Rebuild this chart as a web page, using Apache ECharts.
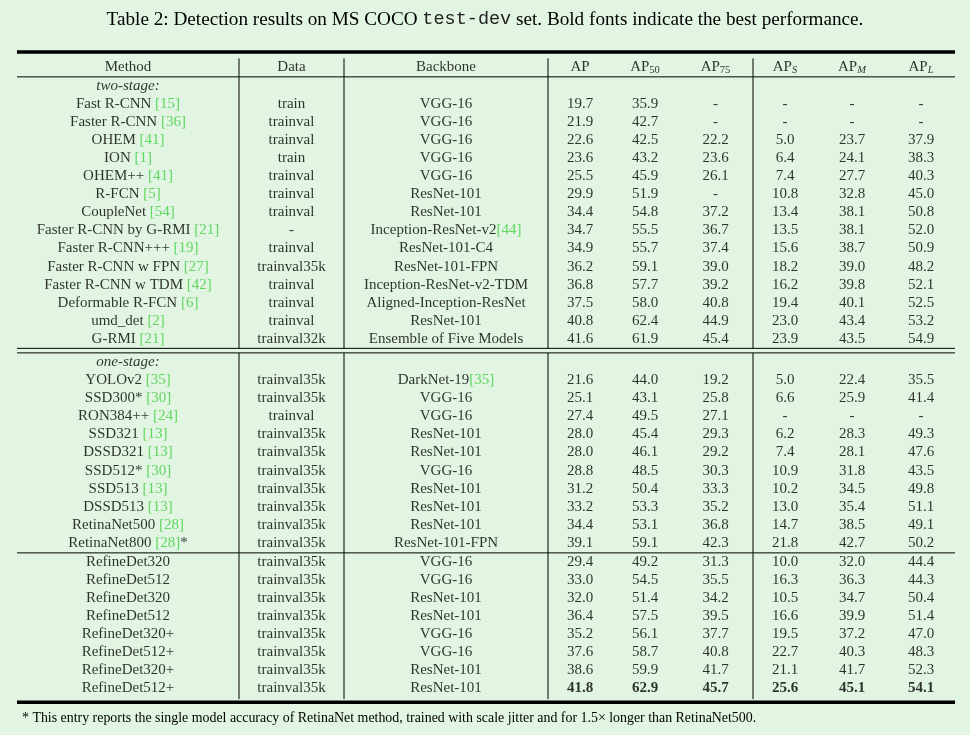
<!DOCTYPE html>
<html>
<head>
<meta charset="utf-8">
<script src="https://cdn.jsdelivr.net/npm/echarts@6/dist/echarts.min.js"></script>
<style>
  html, body { margin: 0; padding: 0; background: #E2F5E3; }
  #main { width: 970px; height: 735px; }
</style>
</head>
<body>
<div id="main"></div>
<script>
// table content
const headers = ['Method', 'Data', 'Backbone', 'AP', 'AP{sub|50}', 'AP{sub|75}', 'AP{isub|S}', 'AP{isub|M}', 'AP{isub|L}']
const sectionLabels = ['two-stage:', 'one-stage:', null]
const sectionSizes = [14, 10, 8]

const methods = [
    'Fast R-CNN [15]', 'Faster R-CNN [36]', 'OHEM [41]', 'ION [1]', 'OHEM++ [41]', 'R-FCN [5]',
    'CoupleNet [54]', 'Faster R-CNN by G-RMI [21]', 'Faster R-CNN+++ [19]', 'Faster R-CNN w FPN [27]',
    'Faster R-CNN w TDM [42]', 'Deformable R-FCN [6]', 'umd_det [2]', 'G-RMI [21]',
    'YOLOv2 [35]', 'SSD300* [30]', 'RON384++ [24]', 'SSD321 [13]', 'DSSD321 [13]', 'SSD512* [30]',
    'SSD513 [13]', 'DSSD513 [13]', 'RetinaNet500 [28]', 'RetinaNet800 [28]*',
    'RefineDet320', 'RefineDet512', 'RefineDet320', 'RefineDet512',
    'RefineDet320+', 'RefineDet512+', 'RefineDet320+', 'RefineDet512+'
]
const dataUsed = [
    'train', 'trainval', 'trainval', 'train', 'trainval', 'trainval', 'trainval', '-', 'trainval',
    'trainval35k', 'trainval', 'trainval', 'trainval', 'trainval32k',
    'trainval35k', 'trainval35k', 'trainval', 'trainval35k', 'trainval35k', 'trainval35k',
    'trainval35k', 'trainval35k', 'trainval35k', 'trainval35k',
    'trainval35k', 'trainval35k', 'trainval35k', 'trainval35k',
    'trainval35k', 'trainval35k', 'trainval35k', 'trainval35k'
]
const backbones = [
    'VGG-16', 'VGG-16', 'VGG-16', 'VGG-16', 'VGG-16', 'ResNet-101', 'ResNet-101',
    'Inception-ResNet-v2[44]', 'ResNet-101-C4', 'ResNet-101-FPN', 'Inception-ResNet-v2-TDM',
    'Aligned-Inception-ResNet', 'ResNet-101', 'Ensemble of Five Models',
    'DarkNet-19[35]', 'VGG-16', 'VGG-16', 'ResNet-101', 'ResNet-101', 'VGG-16',
    'ResNet-101', 'ResNet-101', 'ResNet-101', 'ResNet-101-FPN',
    'VGG-16', 'VGG-16', 'ResNet-101', 'ResNet-101', 'VGG-16', 'VGG-16', 'ResNet-101', 'ResNet-101'
]
const ap = [19.7, 21.9, 22.6, 23.6, 25.5, 29.9, 34.4, 34.7, 34.9, 36.2, 36.8, 37.5, 40.8, 41.6,
    21.6, 25.1, 27.4, 28.0, 28.0, 28.8, 31.2, 33.2, 34.4, 39.1,
    29.4, 33.0, 32.0, 36.4, 35.2, 37.6, 38.6, 41.8]
const ap50 = [35.9, 42.7, 42.5, 43.2, 45.9, 51.9, 54.8, 55.5, 55.7, 59.1, 57.7, 58.0, 62.4, 61.9,
    44.0, 43.1, 49.5, 45.4, 46.1, 48.5, 50.4, 53.3, 53.1, 59.1,
    49.2, 54.5, 51.4, 57.5, 56.1, 58.7, 59.9, 62.9]
const ap75 = [null, null, 22.2, 23.6, 26.1, null, 37.2, 36.7, 37.4, 39.0, 39.2, 40.8, 44.9, 45.4,
    19.2, 25.8, 27.1, 29.3, 29.2, 30.3, 33.3, 35.2, 36.8, 42.3,
    31.3, 35.5, 34.2, 39.5, 37.7, 40.8, 41.7, 45.7]
const apS = [null, null, 5.0, 6.4, 7.4, 10.8, 13.4, 13.5, 15.6, 18.2, 16.2, 19.4, 23.0, 23.9,
    5.0, 6.6, null, 6.2, 7.4, 10.9, 10.2, 13.0, 14.7, 21.8,
    10.0, 16.3, 10.5, 16.6, 19.5, 22.7, 21.1, 25.6]
const apM = [null, null, 23.7, 24.1, 27.7, 32.8, 38.1, 38.1, 38.7, 39.0, 39.8, 40.1, 43.4, 43.5,
    22.4, 25.9, null, 28.3, 28.1, 31.8, 34.5, 35.4, 38.5, 42.7,
    32.0, 36.3, 34.7, 39.9, 37.2, 40.3, 41.7, 45.1]
const apL = [null, null, 37.9, 38.3, 40.3, 45.0, 50.8, 52.0, 50.9, 48.2, 52.1, 52.5, 53.2, 54.9,
    35.5, 41.4, null, 49.3, 47.6, 43.5, 49.8, 51.1, 49.1, 50.2,
    44.4, 44.3, 50.4, 51.4, 47.0, 48.3, 52.3, 54.1]
const bestRow = 31

// layout (pixels across, row units down)
const colEdges = [17, 239, 344, 548, 612, 678, 753, 817, 887, 955]
const vLineX = [239, 344, 548, 753]
const sectionGaps = [0.27, 0.03]
const FONT = '"Liberation Serif", "Times New Roman", serif'
const GREEN = '#3fcf3f'
const INK = '#000'

const colCenter = i => (colEdges[i] + colEdges[i + 1]) / 2
const cite = s => s.replace(/\[(\d+)\]/g, '{cite|[$1]}')
const num = (v, bold) => v == null ? '-' : (bold ? '{b|' + v.toFixed(1) + '}' : v.toFixed(1))

const cells = []
headers.forEach((h, c) => cells.push({ value: [colCenter(c), 0], txt: h }))

let pos = 1
const rowPos = []
sectionSizes.forEach((n, s) => {
    if (sectionLabels[s]) {
        cells.push({ value: [colCenter(0), pos], txt: '{it|' + sectionLabels[s] + '}' })
        pos += 1
    }
    for (let k = 0; k < n; k++) {
        rowPos.push(pos)
        pos += 1
    }
    pos += sectionGaps[s] || 0
})

for (let r = 0; r < methods.length; r++) {
    const y = rowPos[r]
    const bold = r === bestRow
    const vals = [cite(methods[r]), dataUsed[r], cite(backbones[r]),
        num(ap[r], bold), num(ap50[r], bold), num(ap75[r], bold),
        num(apS[r], bold), num(apM[r], bold), num(apL[r], bold)]
    vals.forEach((t, c) => cells.push({ value: [colCenter(c), y], txt: t }))
}

// rules: [x1, x2, y, width]
const hRules = [
    [17, 955, -0.77, 3.5],
    [17, 955, 0.6, 1],
    [17, 955, 15.6, 1],
    [17, 955, 15.85, 1],
    [17, 955, 26.9, 1],
    [17, 955, 35.15, 3.5]
]
// vertical rules: [x, y1, y2]
const vRules = []
vLineX.forEach(x => {
    vRules.push([x, -0.42, 15.6])
    vRules.push([x, 15.85, 34.98])
})

const chart = echarts.init(document.getElementById('main'), null, { renderer: 'canvas' })

const option = {
    backgroundColor: '#E2F5E3',
    animation: false,
    title: [
        {
            text: 'Table 2: Detection results on MS COCO {mono|test-dev} set. Bold fonts indicate the best performance.',
            left: 'center',
            top: 5,
            textStyle: {
                fontFamily: FONT,
                fontSize: 19.2,
                fontWeight: 'normal',
                color: INK,
                rich: {
                    mono: { fontFamily: '"Liberation Mono", monospace', fontSize: 18.5, color: '#222' }
                }
            }
        },
        {
            text: '* This entry reports the single model accuracy of RetinaNet method, trained with scale jitter and for 1.5\u00d7 longer than RetinaNet500.',
            left: 17,
            top: 706,
            textStyle: { fontFamily: FONT, fontSize: 13.9, fontWeight: 'normal', color: INK }
        }
    ],
    grid: { left: 0, right: 0, top: 47.9, bottom: 17.4 },
    xAxis: { type: 'value', min: 0, max: 970, show: false },
    yAxis: { type: 'value', min: -1, max: 36, inverse: true, show: false },
    series: [
        {
            type: 'custom',
            silent: true,
            clip: false,
            data: hRules,
            renderItem: (params, api) => {
                const p1 = api.coord([api.value(0), api.value(2)])
                const p2 = api.coord([api.value(1), api.value(2)])
                return {
                    type: 'line',
                    shape: { x1: p1[0], y1: p1[1], x2: p2[0], y2: p2[1] },
                    style: { stroke: '#000', lineWidth: api.value(3) }
                }
            }
        },
        {
            type: 'custom',
            silent: true,
            clip: false,
            data: vRules,
            renderItem: (params, api) => {
                const p1 = api.coord([api.value(0), api.value(1)])
                const p2 = api.coord([api.value(0), api.value(2)])
                return {
                    type: 'line',
                    shape: { x1: p1[0], y1: p1[1], x2: p2[0], y2: p2[1] },
                    style: { stroke: '#000', lineWidth: 1 }
                }
            }
        },
        {
            type: 'scatter',
            silent: true,
            symbolSize: 0,
            itemStyle: { color: 'transparent' },
            data: cells,
            label: {
                show: true,
                position: 'inside',
                offset: [0, 1.5],
                fontFamily: FONT,
                fontSize: 15,
                color: INK,
                formatter: p => p.data.txt,
                rich: {
                    cite: { fontFamily: FONT, fontSize: 15, color: GREEN },
                    it: { fontFamily: FONT, fontSize: 15, fontStyle: 'italic', color: INK },
                    b: { fontFamily: FONT, fontSize: 15, fontWeight: 'bold', color: INK },
                    sub: { fontFamily: FONT, fontSize: 10.5, color: INK, verticalAlign: 'bottom', padding: [5, 0, 0, 0] },
                    isub: { fontFamily: FONT, fontSize: 10.5, fontStyle: 'italic', color: INK, verticalAlign: 'bottom', padding: [5, 0, 0, 0] }
                }
            }
        }
    ]
}
chart.setOption(option)
</script>
</body>
</html>
